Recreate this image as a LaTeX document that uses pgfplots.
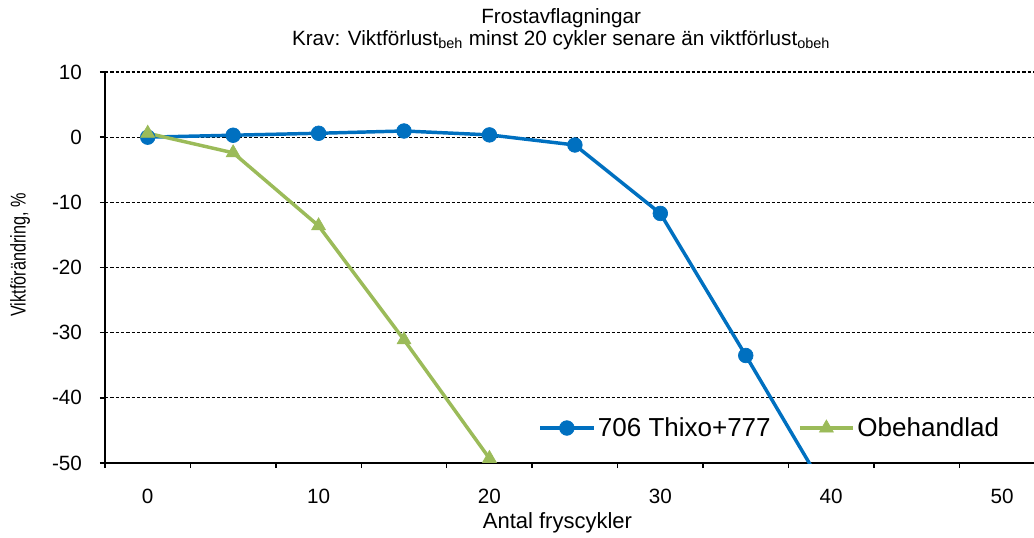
\documentclass[border=0pt]{standalone}
\usepackage{fontspec}
\setmainfont{Liberation Sans}
\newfontfamily\condensed[FakeStretch=0.76]{Liberation Sans}
\usepackage{pgfplots}
\pgfplotsset{compat=1.18}
\definecolor{cblue}{HTML}{0070C0}
\definecolor{cgreen}{HTML}{9BBB59}
\begin{document}
\begin{tikzpicture}
\path[use as bounding box] (-78.75pt,-55.5pt) rectangle (696.75pt,347.25pt);
\begin{axis}[
  at={(0pt,0pt)}, anchor=south west,
  scale only axis, width=696.75pt, height=293.25pt,
  xmin=-2.5, xmax=51.87, ymin=-50, ymax=10,
  axis x line*=bottom, axis y line*=left,
  axis line style={line width=1.5pt,-},
  xtick={0,10,...,50}, minor xtick={-2.5,2.5,...,52.5},
  ytick={-50,-40,...,10},
  tick align=outside,
  major tick length=3.75pt, minor tick length=3.75pt,
  tick style={black, line width=1.1pt},
  major x tick style={draw=none},
  ymajorgrids,
  grid style={black, line width=0.9pt, dash pattern=on 2.6pt off 1.4pt},
  /pgf/number format/assume math mode=true,
  ticklabel style={font=\fontsize{15.5}{18}\selectfont},
  xticklabel style={yshift=-12pt},
  yticklabel style={xshift=-10pt},
  xlabel={Antal fryscykler},
  xlabel style={at={(axis description cs:0.487,-0.153)}, anchor=center, font=\fontsize{16.5}{19}\selectfont},
  ylabel={Viktförändring, \%},
  ylabel style={at={(axis description cs:-0.0915,0.532)}, anchor=center, font=\condensed\fontsize{16}{19}\selectfont},
  title={Frostavflagningar\\Krav: Viktförlust\textsubscript{beh} minst 20 cykler senare än viktförlust\textsubscript{obeh}},
  title style={align=center, font=\fontsize{15.5}{16.5}\selectfont, at={(axis description cs:0.491,1)}, anchor=south, yshift=7.5pt},
  legend style={at={(axis description cs:0.462,0.0895)}, anchor=west, draw=none, fill=none,
    font=\fontsize{19.5}{22}\selectfont, legend columns=2,
    /tikz/every even column/.append style={column sep=18.5pt}},
  legend cell align=left,
  legend image code/.code={\draw[mark indices={2}] plot coordinates {(0pt,0pt) (20pt,0pt) (40pt,0pt)};},
]
\addplot[cblue, line width=2.6pt, mark=*, mark size=5.5pt, mark indices={1,...,8}, mark options={solid, line width=0.5pt}]
  coordinates {(0,0) (5,0.3) (10,0.6) (15,0.95) (20,0.35) (25,-1.2) (30,-11.7) (35,-33.5) (40,-55.7)};
\addlegendentry{706 Thixo+777}
\addplot[cgreen, line width=2.6pt, mark=triangle*, mark size=6pt, mark options={solid, line width=0.5pt}]
  coordinates {(0,0.6) (5,-2.4) (10,-13.6) (15,-31.1) (20,-49.3)};
\addlegendentry{Obehandlad}
\end{axis}
\end{tikzpicture}
\end{document}
